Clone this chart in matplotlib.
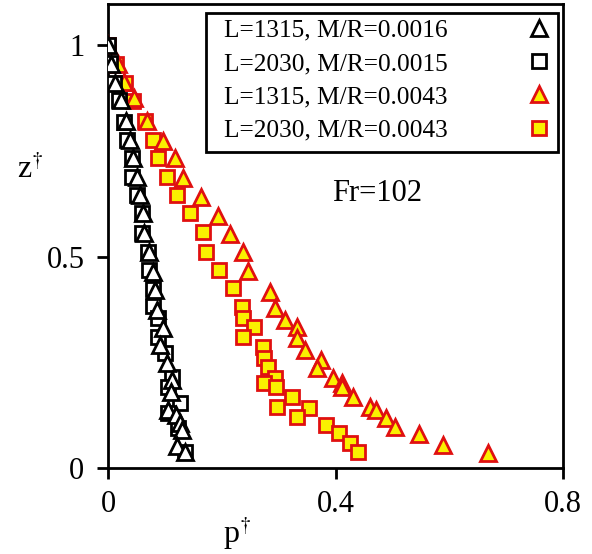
import matplotlib
matplotlib.use("Agg")
import matplotlib.pyplot as plt
from matplotlib.lines import Line2D
from matplotlib.patches import Rectangle

plt.rcParams["font.family"] = ["Liberation Serif", "DejaVu Serif"]
plt.rcParams["mathtext.fontset"] = "stix"

# Pressure profiles p† versus height z†, Fr = 102
labels = ["L=1315, M/R=0.0016", "L=2030, M/R=0.0015",
          "L=1315, M/R=0.0043", "L=2030, M/R=0.0043"]
fr_text = "Fr=102"

# L=1315, M/R=0.0016 (triangles, open black)
p_tri_low = [0.000, 0.005, 0.012, 0.023, 0.032, 0.039, 0.044, 0.051, 0.056, 0.061,
             0.063, 0.072, 0.079, 0.082, 0.086, 0.096, 0.091, 0.104, 0.112, 0.111,
             0.105, 0.119, 0.126, 0.130, 0.121, 0.135]
z_tri_low = [1.000, 0.955, 0.910, 0.870, 0.820, 0.775, 0.733, 0.688, 0.645, 0.603,
             0.556, 0.511, 0.463, 0.421, 0.374, 0.331, 0.291, 0.248, 0.208, 0.180,
             0.137, 0.125, 0.106, 0.090, 0.052, 0.038]

# L=2030, M/R=0.0015 (squares, open black)
p_sq_low = [0.000, 0.004, 0.011, 0.019, 0.028, 0.033, 0.042, 0.042, 0.051, 0.060,
            0.060, 0.070, 0.072, 0.079, 0.079, 0.088, 0.088, 0.100, 0.112, 0.105,
            0.126, 0.105, 0.123, 0.135]
z_sq_low = [1.000, 0.957, 0.910, 0.870, 0.818, 0.775, 0.733, 0.688, 0.645, 0.603,
            0.556, 0.511, 0.468, 0.423, 0.383, 0.355, 0.310, 0.272, 0.215, 0.191,
            0.154, 0.130, 0.095, 0.038]

# L=1315, M/R=0.0043 (triangles, yellow)
p_tri_high = [0.000, 0.018, 0.028, 0.046, 0.068, 0.096, 0.118, 0.132, 0.163, 0.193,
              0.214, 0.237, 0.246, 0.284, 0.293, 0.312, 0.332, 0.333, 0.346, 0.374,
              0.368, 0.395, 0.411, 0.412, 0.430, 0.460, 0.472, 0.489, 0.505, 0.547,
              0.589, 0.668]
z_tri_high = [1.000, 0.955, 0.913, 0.875, 0.820, 0.773, 0.733, 0.686, 0.641, 0.596,
              0.553, 0.511, 0.466, 0.416, 0.378, 0.350, 0.333, 0.307, 0.279, 0.255,
              0.236, 0.213, 0.201, 0.191, 0.168, 0.144, 0.137, 0.118, 0.097, 0.080,
              0.054, 0.035]

# L=2030, M/R=0.0043 (squares, yellow)
p_sq_high = [0.000, 0.014, 0.030, 0.044, 0.065, 0.079, 0.088, 0.104, 0.121, 0.144,
             0.167, 0.172, 0.196, 0.219, 0.235, 0.237, 0.256, 0.237, 0.272, 0.275,
             0.281, 0.293, 0.275, 0.296, 0.323, 0.298, 0.354, 0.332, 0.384, 0.407,
             0.425, 0.439]
z_sq_high = [1.000, 0.955, 0.910, 0.868, 0.820, 0.775, 0.733, 0.688, 0.645, 0.603,
             0.558, 0.511, 0.468, 0.426, 0.381, 0.355, 0.333, 0.310, 0.286, 0.260,
             0.239, 0.213, 0.201, 0.191, 0.168, 0.144, 0.142, 0.121, 0.102, 0.083,
             0.059, 0.038]

x_ticks = [0, 0.4, 0.8]
x_ticklabels = ["0", "0.4", "0.8"]
y_ticks = [0, 0.5, 1]
y_ticklabels = ["0", "0.5", "1"]

yellow = "#FAF000"
red = "#E01010"

W, H = 592, 554
fig = plt.figure(figsize=(W / 100, H / 100), dpi=100)
ax = fig.add_axes([108 / W, 86 / H, 455 / W, 464 / H])

common = dict(linestyle="none", markeredgewidth=2.0)
ax.plot(p_sq_high, z_sq_high, marker="s", markersize=10, markerfacecolor=yellow,
        markeredgecolor=red, zorder=3, **common)
ax.plot(p_tri_high, z_tri_high, marker="^", markersize=11, markerfacecolor=yellow,
        markeredgecolor=red, zorder=4, **common)
ax.plot(p_sq_low, z_sq_low, marker="s", markersize=10, markerfacecolor="white",
        markeredgecolor="black", zorder=5, **common)
ax.plot(p_tri_low, z_tri_low, marker="^", markersize=11, markerfacecolor="white",
        markeredgecolor="black", zorder=6, **common)

ax.set_xlim(0, 0.8)
ax.set_ylim(0, 1.097)
ax.set_xticks(x_ticks)
ax.set_xticklabels(x_ticklabels)
ax.set_yticks(y_ticks)
ax.set_yticklabels(y_ticklabels)
ax.tick_params(direction="out", length=8, width=2, labelsize=22,
               top=False, right=False)
ax.tick_params(axis="x", pad=8)
ax.tick_params(axis="y", pad=9)

for sp in ax.spines.values():
    sp.set_linewidth(2)

ax.set_xlabel(r"p$^{\dagger}$", fontsize=23)
ax.xaxis.set_label_coords(0.284, -0.10)
ax.set_ylabel(r"z$^{\dagger}$", fontsize=23, rotation=0, ha="center", va="center")
ax.yaxis.set_label_coords(-0.171, 0.643)

ax.text(0.492, 0.575, fr_text, transform=ax.transAxes, fontsize=22, va="baseline")

# legend box drawn as its own frame, entries laid out inside it
box = Rectangle((206 / W, 1 - 152 / H), 352 / W, 139 / H, transform=fig.transFigure,
                facecolor="white", edgecolor="black", linewidth=2, zorder=9,
                clip_on=False)
ax.add_patch(box)

handles = [
    Line2D([], [], marker="^", markersize=11, markerfacecolor="white",
           markeredgecolor="black", **common),
    Line2D([], [], marker="s", markersize=10, markerfacecolor="white",
           markeredgecolor="black", **common),
    Line2D([], [], marker="^", markersize=11, markerfacecolor=yellow,
           markeredgecolor=red, **common),
    Line2D([], [], marker="s", markersize=10, markerfacecolor=yellow,
           markeredgecolor=red, **common),
]
leg = ax.legend(handles, labels, loc="upper left",
                bbox_to_anchor=((224 - 108) / 455, (468 - 19) / 464),
                borderaxespad=0, borderpad=0, fontsize=18.3, markerfirst=False,
                handlelength=1.0, handletextpad=3.1, labelspacing=0.41,
                frameon=False)
leg.set_zorder(10)

fig.savefig("out.png", dpi=100)
